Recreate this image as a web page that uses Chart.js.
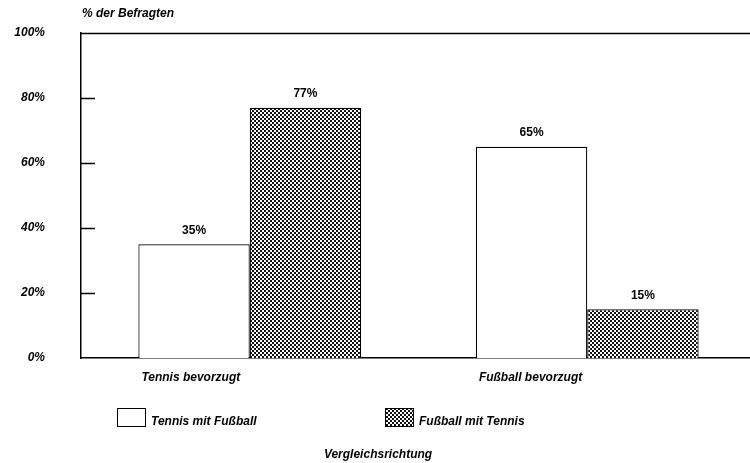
<!DOCTYPE html>
<html><head><meta charset="utf-8">
<script src="https://cdn.jsdelivr.net/npm/chart.js@4"></script>
<style>html,body{margin:0;padding:0;background:#fff;overflow:hidden}#wrap{width:750px;height:463px;overflow:hidden}</style>
</head><body><div id="wrap"><canvas id="c" width="756" height="463"></canvas></div>
<script>
const categories = ['Tennis bevorzugt', 'Fußball bevorzugt'];
const seriesNames = ['Tennis mit Fußball', 'Fußball mit Tennis'];
const tennisMitFussball = [35, 65];
const fussballMitTennis = [77, 15];
const yTicks = [0, 20, 40, 60, 80, 100];
const yAxisTitle = '% der Befragten';
const xAxisTitle = 'Vergleichsrichtung';

const FONT = '"Liberation Sans", Arial, sans-serif';
const fontStr = 'italic bold 12px ' + FONT;
const valueFont = 'bold 12px ' + FONT;

function makePattern() {
  const t = document.createElement('canvas');
  t.width = 4; t.height = 4;
  const g = t.getContext('2d');
  g.fillStyle = '#111'; g.fillRect(0, 0, 4, 4);
  g.fillStyle = '#fff';
  g.fillRect(0, 0, 2, 2);
  g.fillRect(2, 2, 2, 2);
  return document.getElementById('c').getContext('2d').createPattern(t, 'repeat');
}
const hatch = makePattern();

const decor = {
  id: 'decor',
  afterDraw(chart) {
    const ctx = chart.ctx, a = chart.chartArea;
    const y = chart.scales.y;
    ctx.save();
    ctx.strokeStyle = '#000'; ctx.lineWidth = 1.5;
    // top frame line
    ctx.beginPath(); ctx.moveTo(a.left, a.top + 0.5); ctx.lineTo(a.right, a.top + 0.5); ctx.stroke();
    // inner tick marks
    y.ticks.forEach(t => {
      if (t.value <= 0 || t.value >= 100) return;
      const py = Math.round(y.getPixelForValue(t.value)) + 0.5;
      ctx.beginPath(); ctx.moveTo(a.left, py); ctx.lineTo(a.left + 14, py); ctx.stroke();
    });
    ctx.fillStyle = '#000';
    ctx.font = fontStr;
    // y axis title
    ctx.textAlign = 'left'; ctx.textBaseline = 'middle';
    ctx.fillText(yAxisTitle, 82, 14);
    // value labels
    ctx.font = valueFont;
    ctx.textAlign = 'center';
    chart.data.datasets.forEach((ds, di) => {
      chart.getDatasetMeta(di).data.forEach((el, i) => {
        ctx.fillText(ds.data[i] + '%', el.x, el.y - 14);
      });
    });
    ctx.font = fontStr;
    // category labels
    const m0 = chart.getDatasetMeta(0).data;
    ctx.textAlign = 'left';
    categories.forEach((c, i) => {
      const el = m0[i];
      ctx.fillText(c, el.x - el.width / 2 + 3, 378);
    });
    // legend
    const lx = [117, 385];
    chart.data.datasets.forEach((ds, di) => {
      ctx.fillStyle = ds.backgroundColor;
      ctx.fillRect(lx[di], 408, 28, 18);
      ctx.lineWidth = 1;
      ctx.strokeRect(lx[di] + 0.5, 408.5, 28, 18);
      ctx.fillStyle = '#000';
      ctx.fillText(ds.label, lx[di] + 34, 422);
    });
    // x axis title
    ctx.textAlign = 'center';
    ctx.fillText(xAxisTitle, 378, 455);
    ctx.restore();
  }
};

new Chart(document.getElementById('c'), {
  type: 'bar',
  data: {
    labels: categories,
    datasets: [
      { label: seriesNames[0], data: tennisMitFussball, backgroundColor: '#fff', borderColor: '#000', borderWidth: 1.2 },
      { label: seriesNames[1], data: fussballMitTennis, backgroundColor: hatch, borderColor: '#000', borderWidth: 1.2 }
    ]
  },
  options: {
    responsive: false,
    animation: false,
    devicePixelRatio: 1,
    layout: { padding: { top: 33, bottom: 105, left: 0, right: 0 } },
    plugins: { legend: { display: false }, tooltip: { enabled: false } },
    datasets: { bar: { barPercentage: 1, categoryPercentage: 0.66 } },
    scales: {
      x: {
        type: 'category',
        grid: { display: false },
        border: { display: true, color: '#000', width: 1.5 },
        ticks: { display: false },
        afterFit(s) { s.height = 0; s.paddingLeft = 0; s.paddingRight = 0; }
      },
      y: {
        min: 0, max: 100,
        afterBuildTicks(s) { s.ticks = yTicks.map(v => ({ value: v })); },
        grid: { display: false },
        border: { display: true, color: '#000', width: 1.5 },
        ticks: {
          color: '#000',
          padding: 28,
          font: { family: FONT, size: 12, style: 'italic', weight: 'bold' },
          callback: v => v + '%'
        },
        afterFit(s) { s.width = 81; s.paddingTop = 0; s.paddingBottom = 0; }
      }
    }
  },
  plugins: [decor]
});
</script></body></html>
